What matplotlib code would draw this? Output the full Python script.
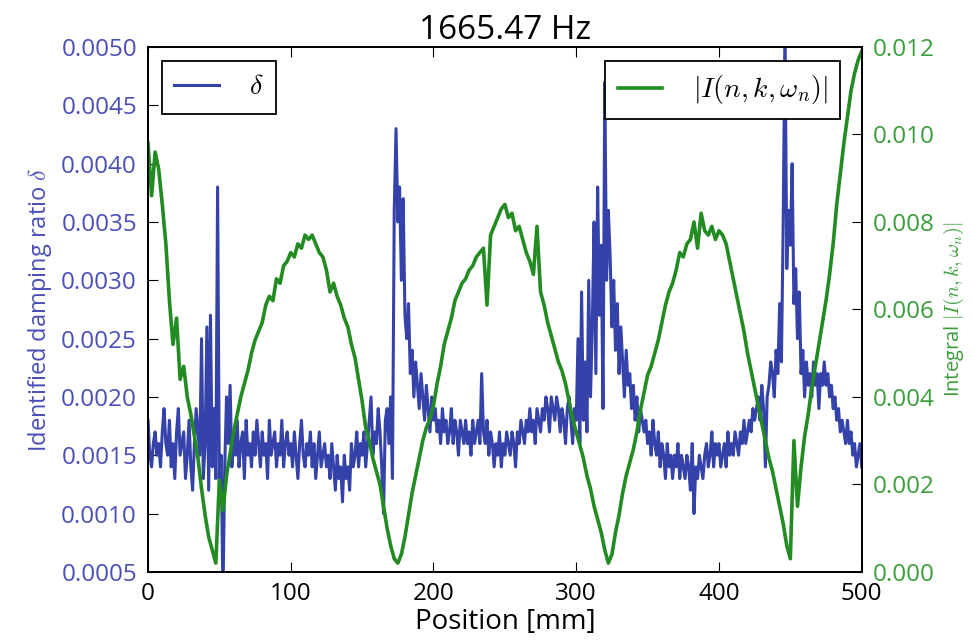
import numpy as np
import matplotlib
matplotlib.use('Agg')
import matplotlib.pyplot as plt

plt.rcParams['font.family'] = ['Open Sans', 'DejaVu Sans']
plt.rcParams['mathtext.fontset'] = 'cm'

# position along the beam [mm]
pos_delta = np.arange(0, 500.1, 1.25)     # damping ratio, every 1.25 mm
pos_integral = np.arange(0, 500.1, 2.5)   # integral, every 2.5 mm

# identified damping ratio delta, in units of 1e-4
delta_e4 = [
    18, 15, 14, 16, 17, 15, 16, 14, 17, 19, 16, 15, 18, 14, 16, 13, 17, 19, 15, 16,
    17, 13, 15, 18, 14, 12, 16, 19, 17, 15, 25, 13, 16, 26, 12, 27, 14, 19, 13, 38,
    12, 15, 3, 14, 20, 16, 21, 14, 17, 15, 18, 14, 16, 17, 13, 18, 15, 16, 14, 17,
    15, 18, 16, 14, 17, 15, 16, 13, 18, 15, 16, 17, 14, 16, 15, 18, 14, 16, 17, 15,
    16, 14, 17, 15, 13, 16, 18, 15, 14, 16, 15, 17, 14, 16, 13, 15, 17, 14, 15, 16,
    14, 15, 13, 16, 14, 12, 15, 13, 14, 11, 15, 13, 14, 12, 16, 14, 15, 17, 14, 16,
    15, 17, 14, 16, 18, 20, 15, 17, 16, 19, 17, 14, 10, 18, 19, 16, 20, 13, 36, 43,
    35, 38, 30, 37, 27, 25, 28, 22, 24, 20, 23, 21, 19, 22, 20, 18, 21, 19, 17, 20,
    18, 19, 17, 18, 16, 19, 17, 18, 16, 17, 19, 16, 18, 17, 15, 18, 17, 16, 18, 16,
    17, 15, 18, 16, 17, 18, 16, 22, 17, 16, 18, 15, 17, 16, 14, 16, 15, 17, 14, 16,
    15, 17, 16, 15, 17, 16, 14, 17, 16, 18, 17, 16, 18, 17, 19, 17, 18, 16, 19, 18,
    17, 19, 18, 20, 19, 17, 20, 19, 18, 20, 19, 17, 19, 18, 16, 19, 20, 18, 16, 19,
    18, 25, 16, 29, 18, 23, 17, 30, 20, 26, 35, 22, 38, 27, 33, 19, 47, 30, 36, 32,
    26, 30, 24, 28, 22, 26, 23, 20, 24, 21, 22, 19, 21, 18, 20, 17, 19, 18, 17, 18,
    16, 17, 15, 18, 16, 15, 17, 14, 16, 15, 13, 16, 14, 15, 13, 15, 14, 16, 13, 15,
    14, 13, 15, 14, 12, 16, 10, 14, 13, 15, 14, 13, 15, 16, 14, 15, 17, 14, 16, 15,
    16, 14, 15, 16, 14, 17, 15, 16, 15, 17, 16, 15, 17, 16, 18, 16, 17, 18, 17, 19,
    18, 19, 20, 18, 21, 19, 14, 20, 21, 23, 22, 20, 24, 22, 28, 23, 35, 52, 31, 36,
    33, 40, 28, 31, 25, 29, 22, 24, 20, 23, 21, 22, 20, 23, 21, 22, 19, 22, 21, 23,
    21, 22, 20, 21, 19, 20, 18, 19, 17, 18, 17, 16, 18, 16, 17, 15, 16, 14, 15, 16,
    14,
]

# integral |I(n,k,w_n)|, in units of 1e-4
integral_e4 = [
    98, 86, 96, 92, 84, 75, 62, 52, 58, 44, 47, 40, 36, 31, 26, 19, 13, 8, 5, 2,
    21, 14, 22, 27, 32, 36, 40, 43, 46, 50, 53, 55, 57, 61, 63, 62, 67, 66, 70, 71,
    73, 72, 75, 74, 77, 76, 77, 75, 73, 72, 69, 64, 66, 63, 61, 58, 56, 52, 49, 44,
    39, 33, 30, 26, 23, 20, 15, 10, 6, 3, 2, 4, 8, 13, 18, 22, 26, 30, 33, 35,
    38, 43, 47, 52, 55, 58, 62, 64, 66, 67, 69, 70, 72, 73, 74, 61, 77, 79, 81, 83,
    84, 81, 82, 78, 79, 76, 73, 71, 68, 79, 64, 61, 57, 54, 51, 48, 46, 43, 39, 35,
    32, 29, 26, 22, 19, 15, 12, 9, 5, 2, 4, 9, 13, 18, 22, 25, 28, 32, 37, 41,
    45, 47, 50, 53, 57, 61, 64, 66, 69, 73, 72, 75, 76, 80, 74, 82, 78, 77, 79, 76,
    78, 77, 75, 71, 67, 63, 59, 55, 50, 46, 42, 38, 34, 30, 26, 23, 19, 15, 11, 6,
    3, 30, 15, 24, 31, 36, 42, 47, 52, 57, 62, 68, 75, 84, 91, 98, 104, 110, 114, 117,
    119,
]

delta = np.array(delta_e4) * 1e-4
integral = np.array(integral_e4) * 1e-4

left_ticks = np.arange(0.0005, 0.00501, 0.0005)
right_ticks = np.arange(0, 0.01201, 0.002)

blue = '#3442aa'
green = '#228b22'
blue_txt = '#4a4fb8'
green_txt = '#3a9e3a'

fig = plt.figure(figsize=(9.77, 6.44), dpi=100)
ax1 = fig.add_axes([0.1515, 0.112, 0.7305, 0.815])
ax2 = ax1.twinx()

l1, = ax1.plot(pos_delta, delta, color=blue, lw=2.2, label=r'$\delta$')
l2, = ax2.plot(pos_integral, integral, color=green, lw=2.6, label=r'$|I(n,k,\omega_n)|$')

ax1.set_xlim(0, 500)
ax1.set_ylim(0.0005, 0.0050)
ax1.set_yticks(left_ticks)
ax1.set_yticklabels(['%.4f' % v for v in left_ticks])
ax2.set_ylim(0, 0.012)
ax2.set_yticks(right_ticks)
ax2.set_yticklabels(['%.3f' % v for v in right_ticks])

ax1.tick_params(axis='x', direction='in', top=True, labelsize=17.5, length=7, pad=7)
ax1.tick_params(axis='y', direction='in', labelsize=17.5, labelcolor=blue_txt, length=7, pad=8)
ax2.tick_params(axis='y', direction='in', labelsize=17.5, labelcolor=green_txt, length=7, pad=8)

for ax in (ax1, ax2):
    for s in ax.spines.values():
        s.set_linewidth(1.3)

ax1.set_xlabel('Position [mm]', fontsize=20, labelpad=2)
ax1.set_ylabel(r'Identified damping ratio $\delta$', fontsize=17, color=blue_txt, labelpad=5)
ax2.set_ylabel(r'Integral $|I(n,k,\omega_n)|$', fontsize=14.5, color=green_txt, labelpad=5)
ax1.set_title('1665.47 Hz', fontsize=24, pad=4)

leg1 = ax1.legend(handles=[l1], loc='upper left', fontsize=20, fancybox=False,
                  edgecolor='black', framealpha=1, handlelength=1.6,
                  handletextpad=1.1, borderpad=0.45)
leg1.get_frame().set_linewidth(1.3)
leg2 = ax2.legend(handles=[l2], loc='upper right', bbox_to_anchor=(0.989, 1.0),
                  fontsize=20, fancybox=False, edgecolor='black', framealpha=1,
                  handlelength=1.6, handletextpad=1.1, borderpad=0.45)
leg2.get_frame().set_linewidth(1.3)

fig.savefig('out.png', dpi=100)
